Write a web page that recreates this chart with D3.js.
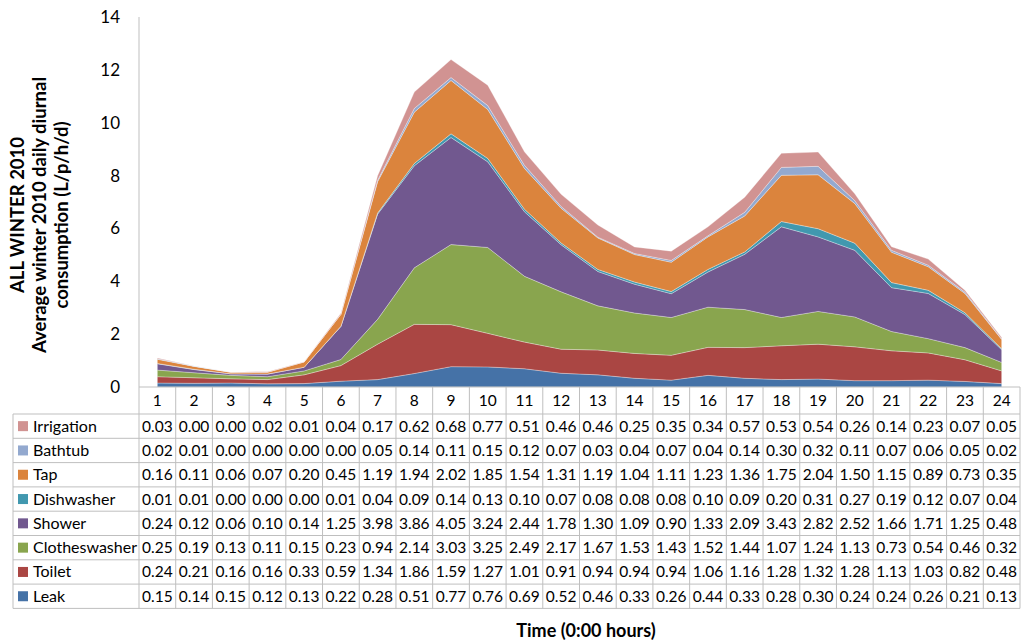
<!DOCTYPE html>
<html>
<head>
<meta charset="utf-8">
<script src="https://cdn.jsdelivr.net/npm/d3@7"></script>
<style>
  body { margin: 0; background: #fff; }
  svg { font-family: Lato, "Open Sans", sans-serif; }
</style>
</head>
<body>
<div id="chart"></div>
<script>
const hours = d3.range(1, 25);
const yTicks = [0, 2, 4, 6, 8, 10, 12, 14];

// series, bottom of the stack first
const leak = [0.15,0.14,0.15,0.12,0.13,0.22,0.28,0.51,0.77,0.76,0.69,0.52,0.46,0.33,0.26,0.44,0.33,0.28,0.30,0.24,0.24,0.26,0.21,0.13];
const toilet = [0.24,0.21,0.16,0.16,0.33,0.59,1.34,1.86,1.59,1.27,1.01,0.91,0.94,0.94,0.94,1.06,1.16,1.28,1.32,1.28,1.13,1.03,0.82,0.48];
const clotheswasher = [0.25,0.19,0.13,0.11,0.15,0.23,0.94,2.14,3.03,3.25,2.49,2.17,1.67,1.53,1.43,1.52,1.44,1.07,1.24,1.13,0.73,0.54,0.46,0.32];
const shower = [0.24,0.12,0.06,0.10,0.14,1.25,3.98,3.86,4.05,3.24,2.44,1.78,1.30,1.09,0.90,1.33,2.09,3.43,2.82,2.52,1.66,1.71,1.25,0.48];
const dishwasher = [0.01,0.01,0.00,0.00,0.00,0.01,0.04,0.09,0.14,0.13,0.10,0.07,0.08,0.08,0.08,0.10,0.09,0.20,0.31,0.27,0.19,0.12,0.07,0.04];
const tap = [0.16,0.11,0.06,0.07,0.20,0.45,1.19,1.94,2.02,1.85,1.54,1.31,1.19,1.04,1.11,1.23,1.36,1.75,2.04,1.50,1.15,0.89,0.73,0.35];
const bathtub = [0.02,0.01,0.00,0.00,0.00,0.00,0.05,0.14,0.11,0.15,0.12,0.07,0.03,0.04,0.07,0.04,0.14,0.30,0.32,0.11,0.07,0.06,0.05,0.02];
const irrigation = [0.03,0.00,0.00,0.02,0.01,0.04,0.17,0.62,0.68,0.77,0.51,0.46,0.46,0.25,0.35,0.34,0.57,0.53,0.54,0.26,0.14,0.23,0.07,0.05];

const seriesNames = ["Leak","Toilet","Clotheswasher","Shower","Dishwasher","Tap","Bathtub","Irrigation"];
const seriesValues = [leak, toilet, clotheswasher, shower, dishwasher, tap, bathtub, irrigation];
const seriesColors = ["#4572A7","#AA4643","#89A54E","#71588F","#4198AF","#DB843D","#93A9CF","#D19392"];

const width = 1021, height = 641;
const plotLeft = 139, plotRight = 1020, plotTop = 17, axisY = 387;
const headerH = 27, rowH = 24.3, labelLeft = 13;

const rows = hours.map((h, i) => {
  const r = { hour: h };
  seriesNames.forEach((n, k) => r[n] = seriesValues[k][i]);
  return r;
});

const svg = d3.select("#chart").append("svg")
  .attr("width", width).attr("height", height);

const x = d3.scaleBand().domain(hours).range([plotLeft, plotRight]);
const y = d3.scaleLinear().domain([0, 14]).range([axisY, plotTop]);
const color = d3.scaleOrdinal().domain(seriesNames).range(seriesColors);

const stacked = d3.stack().keys(seriesNames)(rows);

const area = d3.area()
  .x(d => x(d.data.hour) + x.bandwidth() / 2)
  .y0(d => y(d[0]))
  .y1(d => y(d[1]));

svg.append("g").selectAll("path")
  .data(stacked)
  .join("path")
  .attr("d", area)
  .attr("fill", d => color(d.key))
  .attr("stroke", "#fff")
  .attr("stroke-opacity", 0.5)
  .attr("stroke-width", 0.6);

// y axis
const gridColor = "#bfbfbf";
svg.append("line")
  .attr("x1", plotLeft).attr("x2", plotLeft)
  .attr("y1", plotTop).attr("y2", axisY)
  .attr("stroke", gridColor);

svg.append("g").selectAll("text")
  .data(yTicks)
  .join("text")
  .attr("x", 120)
  .attr("y", d => y(d))
  .attr("dy", "0.35em")
  .attr("text-anchor", "end")
  .style("font-size", "17px")
  .style("fill", "#000")
  .text(d => d);

// y title
const yTitle = svg.append("text")
  .attr("transform", "translate(0,215) rotate(-90)")
  .attr("text-anchor", "middle")
  .style("font-size", "18.5px")
  .style("font-weight", "bold");
["ALL WINTER 2010", "Average winter 2010 daily diurnal", "consumption (L/p/h/d)"].forEach((t, i) => {
  yTitle.append("tspan").attr("x", 0).attr("y", 24 + i * 22).text(t);
});

// header row with hour numbers
const tableTop = axisY + headerH;
const tableBottom = tableTop + rowH * seriesNames.length;

svg.append("line")
  .attr("x1", plotLeft).attr("x2", plotRight)
  .attr("y1", axisY).attr("y2", axisY)
  .attr("stroke", gridColor);

svg.append("g").selectAll("text")
  .data(hours)
  .join("text")
  .attr("x", d => x(d) + x.bandwidth() / 2)
  .attr("y", axisY + 19)
  .attr("text-anchor", "middle")
  .style("font-size", "15.5px")
  .text(d => d);

// table grid
const grid = svg.append("g").attr("stroke", gridColor).attr("stroke-width", 1);
hours.concat([25]).forEach(h => {
  const xx = h === 25 ? plotRight : x(h);
  grid.append("line").attr("x1", xx).attr("x2", xx).attr("y1", axisY).attr("y2", tableBottom);
});
grid.append("line").attr("x1", labelLeft).attr("x2", labelLeft).attr("y1", tableTop).attr("y2", tableBottom);
d3.range(seriesNames.length + 1).forEach(i => {
  const yy = tableTop + i * rowH;
  grid.append("line").attr("x1", labelLeft).attr("x2", plotRight).attr("y1", yy).attr("y2", yy);
});

// table rows, top series first
const tableOrder = seriesNames.slice().reverse();
const rowG = svg.append("g").selectAll("g")
  .data(tableOrder)
  .join("g")
  .attr("transform", (d, i) => `translate(0,${tableTop + i * rowH})`);

rowG.append("rect")
  .attr("x", 18).attr("y", rowH / 2 - 5)
  .attr("width", 10).attr("height", 10)
  .attr("fill", d => color(d));

rowG.append("text")
  .attr("x", 33).attr("y", rowH / 2 + 5.5)
  .style("font-size", "16px")
  .text(d => d);

rowG.selectAll("text.v")
  .data(d => seriesValues[seriesNames.indexOf(d)])
  .join("text")
  .attr("class", "v")
  .attr("x", (d, i) => x(hours[i]) + x.bandwidth() / 2)
  .attr("y", rowH / 2 + 5.5)
  .attr("text-anchor", "middle")
  .style("font-size", "15.5px")
  .text(d => d.toFixed(2));

// x title
svg.append("text")
  .attr("x", 586).attr("y", 637)
  .attr("text-anchor", "middle")
  .style("font-size", "18px")
  .style("font-weight", "bold")
  .text("Time (0:00 hours)");
</script>
</body>
</html>
